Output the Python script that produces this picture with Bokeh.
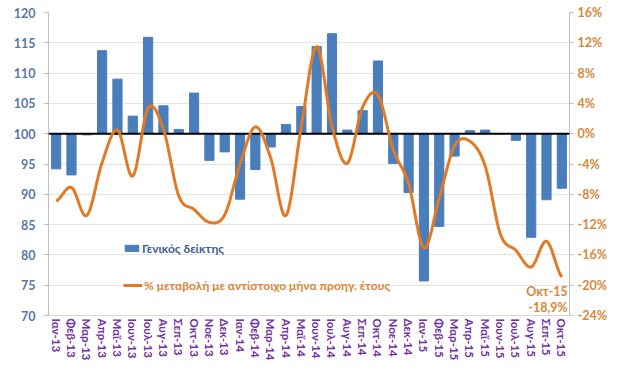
import numpy as np
from bokeh.plotting import figure
from bokeh.models import (Range1d, LinearAxis, FixedTicker, Legend, LegendItem,
                          Label, FactorRange, Span)
from bokeh.embed import file_html
from bokeh.resources import INLINE

months = ["Ιαν-13", "Φεβ-13", "Μαρ-13", "Απρ-13", "Μαϊ-13", "Ιουν-13", "Ιουλ-13", "Αυγ-13",
          "Σεπ-13", "Οκτ-13", "Νοε-13", "Δεκ-13",
          "Ιαν-14", "Φεβ-14", "Μαρ-14", "Απρ-14", "Μαϊ-14", "Ιουν-14", "Ιουλ-14", "Αυγ-14",
          "Σεπ-14", "Οκτ-14", "Νοε-14", "Δεκ-14",
          "Ιαν-15", "Φεβ-15", "Μαρ-15", "Απρ-15", "Μαϊ-15", "Ιουν-15", "Ιουλ-15", "Αυγ-15",
          "Σεπ-15", "Οκτ-15"]

index_values = [94.2, 93.2, 99.8, 113.7, 109.0, 102.9, 115.9, 104.6, 100.7, 106.7, 95.6, 97.0,
                89.2, 94.1, 97.8, 101.5, 104.5, 114.4, 116.5, 100.6, 103.8, 112.0, 95.1, 90.3,
                75.7, 84.7, 96.3, 100.5, 100.6, 100.0, 98.9, 82.9, 89.1, 91.0]

pct_change = [-8.9, -7.1, -10.8, -3.8, 0.5, -5.6, 3.4, 0.6, -8.2, -10.0, -11.7, -10.7,
              -4.0, 0.9, -3.2, -10.8, 1.0, 11.5, 1.0, -3.9, 3.5, 5.1, -2.1, -6.6,
              -15.1, -8.5, -1.6, -1.0, -4.3, -13.3, -15.4, -17.6, -14.2, -18.9]

left_ticks = [70, 75, 80, 85, 90, 95, 100, 105, 110, 115, 120]
pct_ticks = [-24, -20, -16, -12, -8, -4, 0, 4, 8, 12, 16]
pct_labels = ["-24%", "-20%", "-16%", "-12%", "-8%", "-4%", "0%", "4%", "8%", "12%", "16%"]

bar_label = "Γενικός δείκτης"
line_label = "% μεταβολή με αντίστοιχο μήνα προηγ. έτους"
note_month = "Οκτ-15"
note_value = "-18,9%"

BLUE = "#4A7EBB"
ORANGE = "#E27A25"
ORANGE_TXT = "#D9863A"
LEFT_TXT = "#5877A6"
PURPLE = "#7030A0"
FONT = "Lato"

p = figure(x_range=FactorRange(*months), y_range=Range1d(70, 120),
           width=609, height=363, output_backend="svg", toolbar_location=None,
           min_border_left=48, min_border_right=36, min_border_top=12, min_border_bottom=44)
p.outline_line_color = None
p.extra_y_ranges = {"pct": Range1d(-24, 16)}

# bars from baseline 100
bars = p.vbar(x=months, top=index_values, bottom=100, width=0.6, color=BLUE)

# smoothed line (Catmull-Rom through the monthly points, in synthetic category coords)
xs = np.arange(len(pct_change)) + 0.5
ys = np.array(pct_change, dtype=float)
P = np.concatenate([[ys[0]], ys, [ys[-1]]])
X = np.concatenate([[xs[0]], xs, [xs[-1]]])
sx, sy = [], []
t = np.linspace(0, 1, 24)
for i in range(1, len(P) - 2):
    p0, p1, p2, p3 = P[i - 1], P[i], P[i + 1], P[i + 2]
    b1 = p1 + (p2 - p0) / 6.0
    b2 = p2 - (p3 - p1) / 6.0
    yy = (1 - t) ** 3 * p1 + 3 * (1 - t) ** 2 * t * b1 + 3 * (1 - t) * t ** 2 * b2 + t ** 3 * p2
    xx = X[i] + (X[i + 1] - X[i]) * t
    last = i == len(P) - 3
    sx.extend(list(xx if last else xx[:-1]))
    sy.extend(list(yy if last else yy[:-1]))
line = p.line(x=sx, y=sy, y_range_name="pct", line_color=ORANGE, line_width=3)
line.level = "overlay"

# zero line at 100
p.add_layout(Span(location=100, dimension="width", line_color="black", line_width=2))

# axes
p.ygrid.ticker = FixedTicker(ticks=left_ticks)
p.ygrid.grid_line_color = "#E4E4E4"
p.xgrid.grid_line_color = None

ly = p.yaxis[0]
ly.ticker = FixedTicker(ticks=left_ticks)
ly.axis_line_color = "#BFBFBF"
ly.major_tick_line_color = "#BFBFBF"
ly.major_tick_out = 5
ly.major_tick_in = 0
ly.minor_tick_line_color = None
ly.major_label_standoff = 8
ly.major_label_text_color = LEFT_TXT
ly.major_label_text_font = FONT
ly.major_label_text_font_style = "bold"
ly.major_label_text_font_size = "12.5px"

ry = LinearAxis(y_range_name="pct", ticker=FixedTicker(ticks=pct_ticks))
ry.major_label_overrides = {t_: l_ for t_, l_ in zip(pct_ticks, pct_labels)}
ry.axis_line_color = "#BFBFBF"
ry.major_tick_line_color = "#BFBFBF"
ry.major_tick_out = 4
ry.major_tick_in = 0
ry.minor_tick_line_color = None
ry.major_label_standoff = 4
ry.major_label_text_color = ORANGE_TXT
ry.major_label_text_font = FONT
ry.major_label_text_font_style = "bold"
ry.major_label_text_font_size = "12.5px"
p.add_layout(ry, "right")

xa = p.xaxis[0]
xa.axis_line_color = "#D9D9D9"
xa.major_tick_line_color = None
xa.major_tick_out = 0
xa.major_label_orientation = "vertical"
xa.major_label_standoff = 3
xa.major_label_text_color = PURPLE
xa.major_label_text_font = FONT
xa.major_label_text_font_style = "bold"
xa.major_label_text_font_size = "11.5px"

# legends
def make_legend(item, loc, color, gw, gh):
    lg = Legend(items=[item], location=loc, padding=0, margin=0, spacing=0,
                border_line_alpha=0, background_fill_alpha=0,
                glyph_width=gw, glyph_height=gh, label_standoff=2, label_height=16,
                label_text_font=FONT, label_text_font_style="bold",
                label_text_font_size="12px", label_text_color=color)
    p.add_layout(lg, "center")

make_legend(LegendItem(label=bar_label, renderers=[bars]), (75, 59), "#3E5E8E", 17, 8)
make_legend(LegendItem(label=line_label, renderers=[line]), (75, 22), ORANGE_TXT, 19, 16)

# annotation at last point
p.add_layout(Label(x=len(months) - 0.5, y=-20.8, y_range_name="pct", text=note_month,
                   x_offset=6, text_align="right", text_baseline="middle",
                   text_color=ORANGE_TXT, text_font=FONT, text_font_style="bold",
                   text_font_size="12.5px"))
p.add_layout(Label(x=len(months) - 0.5, y=-22.9, y_range_name="pct", text=note_value,
                   x_offset=6, text_align="right", text_baseline="middle",
                   text_color=ORANGE_TXT, text_font=FONT, text_font_style="bold",
                   text_font_size="12.5px"))

open("out.html", "w").write(file_html(p, INLINE))
